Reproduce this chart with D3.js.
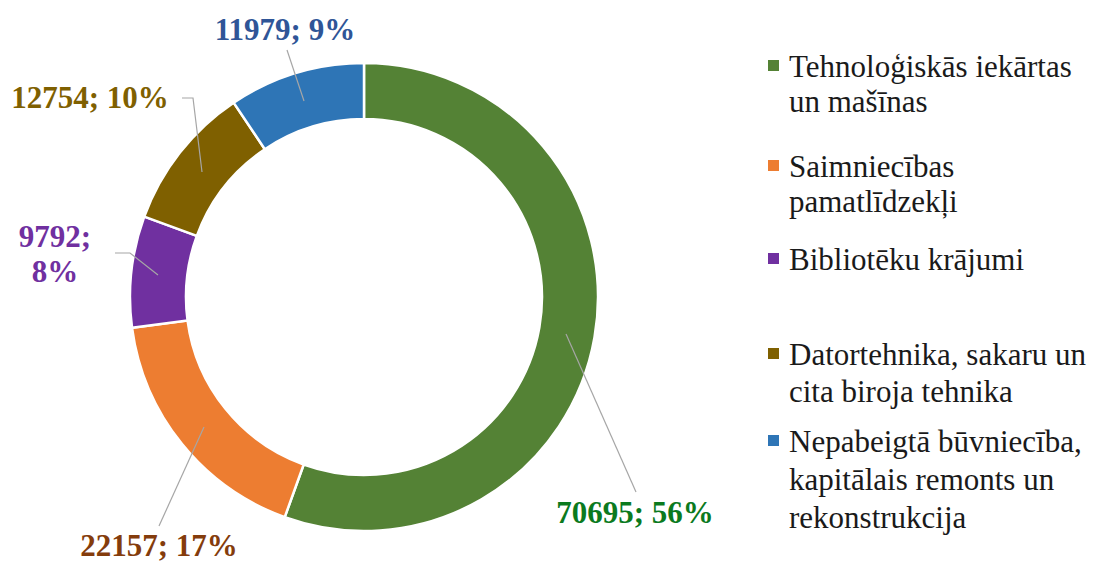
<!DOCTYPE html>
<html><head><meta charset="utf-8">
<script src="https://cdn.jsdelivr.net/npm/d3@7"></script>
</head><body style="margin:0">
<svg id="c" width="1098" height="562"></svg>
<script>
const categories = ["Tehnoloģiskās iekārtas un mašīnas","Saimniecības pamatlīdzekļi","Bibliotēku krājumi","Datortehnika, sakaru un cita biroja tehnika","Nepabeigtā būvniecība, kapitālais remonts un rekonstrukcija"];
const legendLines = [["Tehnoloģiskās iekārtas","un mašīnas"],["Saimniecības","pamatlīdzekļi"],["Bibliotēku krājumi"],["Datortehnika, sakaru un","cita biroja tehnika"],["Nepabeigtā būvniecība,","kapitālais remonts un","rekonstrukcija"]];
const values = [70695, 22157, 9792, 12754, 11979];
const percents = ["56%","17%","8%","10%","9%"];
const sliceColors = ["#548235","#ed7d31","#7030a0","#7f6000","#2e75b6"];
const labelColors = ["#0b7a1e","#843c0c","#7030a0","#7f6000","#2f5597"];

const svg = d3.select("#c");
const cx = 364, cy = 297, R = 234, r = 178;
const g = svg.append("g").attr("transform", `translate(${cx},${cy})`);
const pie = d3.pie().sort(null).value(d => d)(values);
const arc = d3.arc().innerRadius(r).outerRadius(R);
g.selectAll("path.s").data(pie).join("path").attr("class","s")
  .attr("d", arc).attr("fill", (d,i) => sliceColors[i])
  .attr("stroke", "#fff").attr("stroke-width", 2.5);

const labelPos = [
  {x:635, y:[523], lines:[values[0]+"; "+percents[0]], leader:[[566,334],[636,492]]},
  {x:159, y:[556], lines:[values[1]+"; "+percents[1]], leader:[[204,427],[159,526]]},
  {x:55, y:[247,282], lines:[values[2]+";", percents[2]], leader:[[158,275],[130,253],[115,253]]},
  {x:90, y:[108], lines:[values[3]+"; "+percents[3]], leader:[[202,172],[193,98],[182,98]]},
  {x:285, y:[40], lines:[values[4]+"; "+percents[4]], leader:[[304,101],[287,50]]}
];
const line = d3.line();
labelPos.forEach((p,i) => {
  svg.append("path").attr("d", line(p.leader)).attr("fill","none")
    .attr("stroke","#a6a6a6").attr("stroke-width",1.2);
  p.lines.forEach((t,j) => {
    svg.append("text").attr("x", p.x).attr("y", p.y[j]).attr("text-anchor","middle")
      .attr("font-family", "Liberation Serif").attr("font-weight","bold").attr("font-size",31)
      .attr("fill", labelColors[i]).text(t);
  });
});

const legBase = [[77,112],[177,212],[270],[365,402],[452,490,528]];
legendLines.forEach((ls,i) => {
  svg.append("rect").attr("x",768).attr("y",legBase[i][0]-17).attr("width",11).attr("height",11)
    .attr("fill", sliceColors[i]);
  ls.forEach((t,j) => {
    svg.append("text").attr("x",789).attr("y",legBase[i][j])
      .attr("font-family", "Liberation Serif").attr("font-size",31).attr("fill","#1a1a1a").text(t);
  });
});
</script>
</body></html>
